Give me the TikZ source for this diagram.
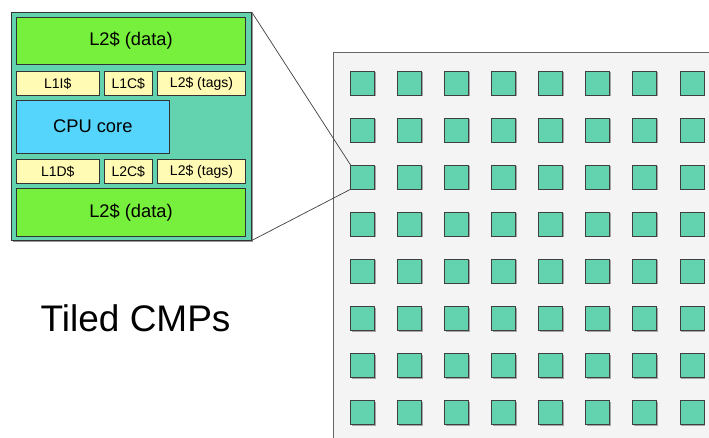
\documentclass[tikz,border=0pt]{standalone}
\usepackage{fontspec}
\setmainfont{Liberation Sans}
\definecolor{tealc}{HTML}{62D3AE}
\definecolor{greenc}{HTML}{76F03C}
\definecolor{yellowc}{HTML}{FFFAB4}
\definecolor{bluec}{HTML}{55D5FB}
\definecolor{panelc}{HTML}{F4F4F4}
\begin{document}
\begin{tikzpicture}[x=1pt,y=-1pt,
  box/.style={draw=black!80, line width=0.8pt, inner sep=0pt, outer sep=0pt, anchor=north west},
  bigtxt/.style={font=\fontsize{18.3}{20}\selectfont},
  smalltxt/.style={font=\fontsize{14}{16}\selectfont},
  tilebox/.style={draw=black!75, line width=0.9pt, fill=tealc, minimum size=24pt, inner sep=0pt, outer sep=0pt},
  shadowc/.style={fill=black!35}
]
\useasboundingbox (0,0) rectangle (709,437);
\clip (0,0) rectangle (709,437);
\fill[white] (0,0) rectangle (709,437);
% panel
\fill[panelc] (333.3,52.7) rectangle (730,460);
\draw[black!60, line width=1.2pt] (730,52.7) -- (333.3,52.7) -- (333.3,460);
% tiles
\foreach \r in {1,...,8} {
  \foreach \c in {1,...,8} {
    \fill[shadowc] ({362.7+47.04*(\c-1)-11}, {83+47.1*(\r-1)-11}) rectangle ++(24,24);
    \node[tilebox] (t-\r-\c) at ({362.7+47.04*(\c-1)}, {83+47.1*(\r-1)}) {};
  }
}
% zoomed tile
\fill[black!40] (12.5,13.5) rectangle ++(240.7,228.5);
\node[box, fill=tealc, minimum width=240.7pt, minimum height=228.5pt] (zoom) at (11,12) {};
\node[box, fill=greenc, minimum width=229.4pt, minimum height=47pt, bigtxt] (d1) at (16.3,17.3) {L2\$ (data)};
\node[box, fill=yellowc, minimum width=83pt, minimum height=24.7pt, smalltxt] (i1) at (16.3,71) {L1I\$};
\node[box, fill=yellowc, minimum width=48pt, minimum height=24.7pt, smalltxt] (c1) at (104.3,71) {L1C\$};
\node[box, fill=yellowc, minimum width=88.4pt, minimum height=24.7pt, smalltxt] (g1) at (157.3,71) {L2\$ (tags)};
\node[box, fill=bluec, minimum width=153pt, minimum height=53.3pt, bigtxt] (cpu) at (16.3,100) {CPU core};
\node[box, fill=yellowc, minimum width=83pt, minimum height=24pt, smalltxt] (i2) at (16.3,159.3) {L1D\$};
\node[box, fill=yellowc, minimum width=48pt, minimum height=24pt, smalltxt] (c2) at (104.3,159.3) {L2C\$};
\node[box, fill=yellowc, minimum width=88.4pt, minimum height=24pt, smalltxt] (g2) at (157.3,159.3) {L2\$ (tags)};
\node[box, fill=greenc, minimum width=229.4pt, minimum height=47.7pt, bigtxt] (d2) at (16.3,188.3) {L2\$ (data)};
% connectors
\draw[black!75, line width=0.7pt] (zoom.north east) -- (t-3-1.north west);
\draw[black!75, line width=0.7pt] (zoom.south east) -- (t-3-1.south west);
% title
\node[anchor=base west, inner sep=0pt, font=\fontsize{37}{40}\selectfont] (title) at (40.5,331.7) {Tiled CMPs};
\end{tikzpicture}
\end{document}
